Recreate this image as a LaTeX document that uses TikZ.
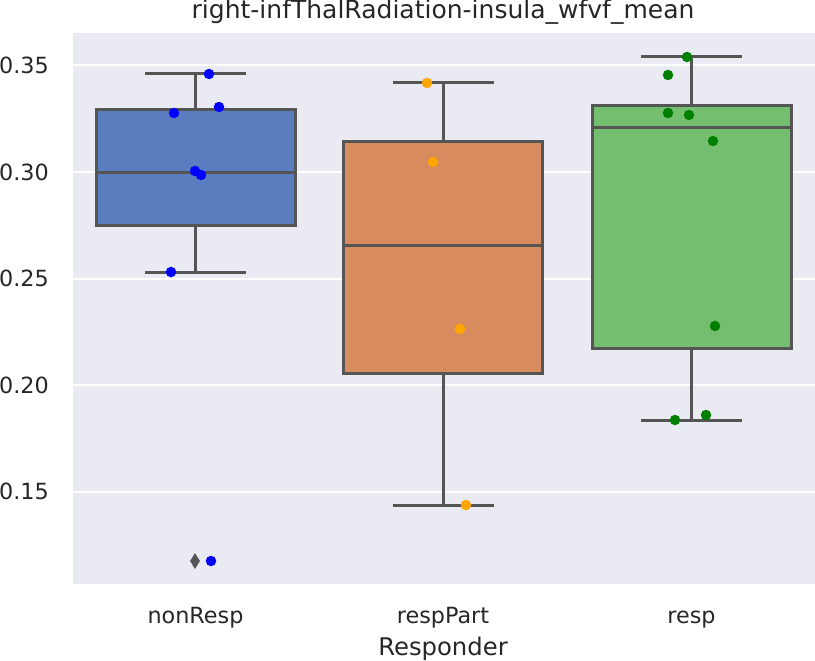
\documentclass[tikz,border=0pt]{standalone}
\usepackage{fontspec}
\setmainfont{DejaVu Sans}
\usetikzlibrary{shapes.geometric}
\definecolor{panel}{HTML}{EAEAF2}
\definecolor{linegray}{HTML}{555555}
\definecolor{txtgray}{HTML}{262626}
\definecolor{boxblue}{HTML}{5A7DBF}
\definecolor{boxorange}{HTML}{D98B60}
\definecolor{boxgreen}{HTML}{74BF6F}
\definecolor{dotorange}{HTML}{FFA500}
\definecolor{dotgreen}{HTML}{008000}
\tikzset{
  boxline/.style={draw=linegray,line width=3pt},
  ticklabel/.style={text=txtgray,font=\fontsize{22.3}{26}\selectfont,inner sep=0pt},
  biglabel/.style={text=txtgray,font=\fontsize{24.3}{28}\selectfont,inner sep=0pt},
}
\begin{document}
\begin{tikzpicture}[x=1pt,y=-1pt]
  \useasboundingbox (0,0) rectangle (815,661);
  \fill[panel] (73,33) rectangle (815,584);
  \begin{scope}[white,line width=2pt]
  \foreach \y in {65.5,172,278.5,385,491.5} \draw (73,\y) -- (815,\y);
  \end{scope}
  % boxes: centre/whisker low/Q1/median/Q3/whisker high/colour
  \foreach \cx/\lo/\qa/\md/\qb/\hi/\col in
    {195.5/272/225/172/110/74/boxblue,
     443/505/373/245/142/83/boxorange,
     691.5/420/348/128/106/57/boxgreen} {
    \draw[boxline] (\cx,\lo) -- (\cx,\qa);
    \draw[boxline] (\cx,\qb) -- (\cx,\hi);
    \draw[boxline] (\cx-50.5,\lo) -- (\cx+50.5,\lo);
    \draw[boxline] (\cx-50.5,\hi) -- (\cx+50.5,\hi);
    \filldraw[boxline,fill=\col] (\cx-99.5,\qa) rectangle (\cx+99.5,\qb);
    \draw[boxline] (\cx-99.5,\md) -- (\cx+99.5,\md);
  }
  \node[diamond,fill=linegray,inner sep=0pt,minimum width=10pt,minimum height=16pt] (out) at (195,561) {};
  \begin{scope}[every node/.style={circle,fill,inner sep=0pt,minimum size=10.5pt}]
  \node[blue] (n1) at (209,74) {};
  \node[blue] (n2) at (174,113) {};
  \node[blue] (n3) at (219,107) {};
  \node[blue] (n4) at (195,171) {};
  \node[blue] (n5) at (201,175) {};
  \node[blue] (n6) at (171,272) {};
  \node[blue] (n7) at (211,561) {};
  \node[dotorange] (p1) at (427,83) {};
  \node[dotorange] (p2) at (433,162) {};
  \node[dotorange] (p3) at (460,329) {};
  \node[dotorange] (p4) at (466,505) {};
  \node[dotgreen] (r1) at (687,57) {};
  \node[dotgreen] (r2) at (668,75) {};
  \node[dotgreen] (r3) at (668,113) {};
  \node[dotgreen] (r4) at (689,115) {};
  \node[dotgreen] (r5) at (713,141) {};
  \node[dotgreen] (r6) at (715,326) {};
  \node[dotgreen] (r7) at (675,420) {};
  \node[dotgreen] (r8) at (706,415) {};
  \end{scope}
  \begin{scope}[every node/.style={ticklabel,anchor=east}]
  \node (t35) at (49,65.5) {0.35};
  \node (t30) at (49,172) {0.30};
  \node (t25) at (49,278.5) {0.25};
  \node (t20) at (49,385) {0.20};
  \node (t15) at (49,491.5) {0.15};
  \end{scope}
  \begin{scope}[every node/.style={ticklabel,anchor=base}]
  \node (cnon) at (195.5,623) {nonResp};
  \node (cpart) at (443,623) {respPart};
  \node (cresp) at (691.5,623) {resp};
  \end{scope}
  \node[biglabel,anchor=base] (xlab) at (443,655) {Responder};
  \node[biglabel,anchor=base,font=\fontsize{25}{29}\selectfont] (title) at (443,19) {right-infThalRadiation-insula\_wfvf\_mean};
\end{tikzpicture}
\end{document}
